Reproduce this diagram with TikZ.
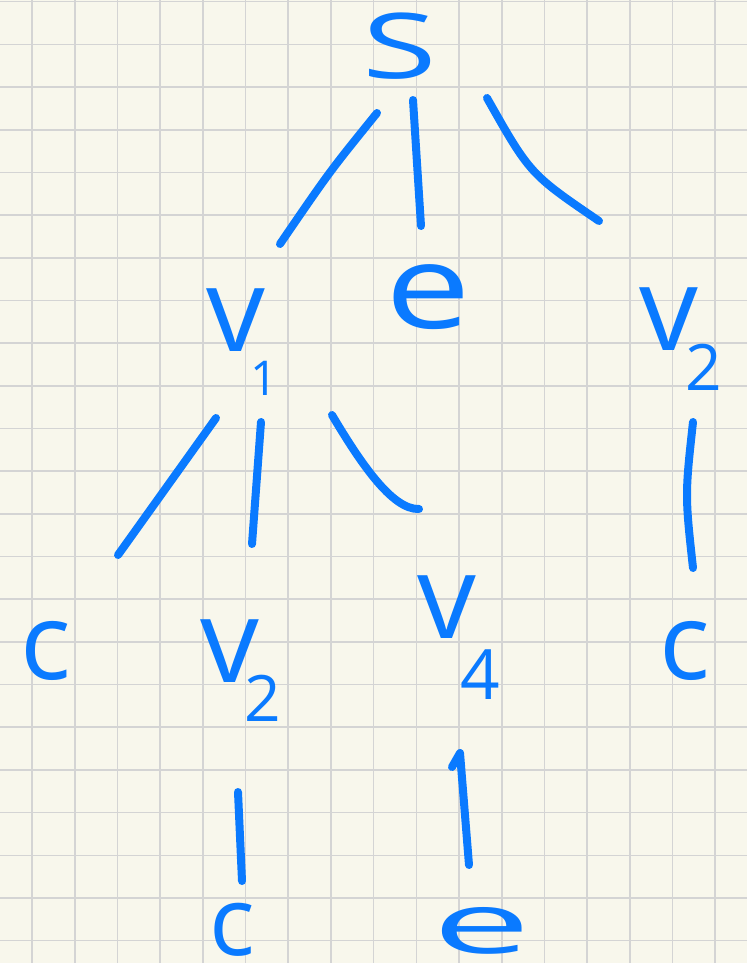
\documentclass[tikz,border=0pt]{standalone}
\usepackage{fontspec}
\newfontfamily\hand{Open Sans}
\usetikzlibrary{calc}
\definecolor{ink}{RGB}{10,122,255}
\definecolor{paper}{RGB}{248,247,236}
\definecolor{gridc}{RGB}{212,212,212}
\newcommand\sbs[4]{\rlap{\smash{\kern#1\raisebox{#2}{\fontsize{#3}{#3}\selectfont #4}}}}
\begin{document}
\begin{tikzpicture}[x=0.75pt,y=-0.75pt,
  letter/.style={inner sep=0pt, text=ink, font=\hand\fontsize{88}{88}\selectfont},
  small/.style={font=\hand\fontsize{80}{80}\selectfont},
  edge/.style={draw=ink, line width=6pt, line cap=round, line join=round},
  gridline/.style={draw=gridc, line width=1.2pt}]
\fill[paper] (0,0) rectangle (747,963);
\useasboundingbox (0,0) rectangle (747,963);
\foreach \k in {0,...,16} \draw[gridline] ({32+42.7*\k},0) -- ({32+42.7*\k},963);
\foreach \k in {0,...,22} \draw[gridline] (0,{1.7+42.68*\k}) -- (747,{1.7+42.68*\k});
% nodes
\node[letter, font=\hand\fontsize{68}{68}\selectfont] (S) at (400,46) {\scalebox{1.5}[1]{S}};
\node[letter] (v1) at (236,320) {v\sbs{-11pt}{-33pt}{36}{1}};
\node[letter] (e1) at (428,297) {\scalebox{1.3}[1]{e}};
\node[letter] (v2r) at (669,319) {v\sbs{-10pt}{-30pt}{48}{2}};
\node[letter, small] (c1) at (46,651) {c};
\node[letter] (v2m) at (230,651) {v\sbs{-11pt}{-29pt}{48}{2}};
\node[letter] (v4) at (447,607) {v\sbs{-12pt}{-46pt}{52}{4}};
\node[letter, small] (c2) at (685,651) {c};
\node[letter, font=\hand\fontsize{72}{72}\selectfont] (c3) at (232,930) {c};
\node[letter] (e2) at (482,931) {\scalebox{1.5}[0.72]{e}};
% edges
\draw[edge] ($(S)+(-23,67)$) .. controls ($(S)+(-70,125)$) .. ($(v1)+(44,-76)$);
\draw[edge] ($(S)+(13,54)$) -- ($(e1)+(-7,-71)$);
\draw[edge] ($(S)+(87,52)$) .. controls ($(S)+(130,128)$) .. ($(v2r)+(-70,-98)$);
\draw[edge] ($(v1)+(-20,98)$) -- ($(c1)+(72,-96)$);
\draw[edge] ($(v1)+(25,102)$) -- ($(v2m)+(22,-107)$);
\draw[edge] ($(v1)+(96,95)$) .. controls ($(v1)+(124,142)$) and ($(v4)+(-55,-97)$) .. ($(v4)+(-28,-98)$);
\draw[edge] ($(v2r)+(24,103)$) .. controls ($(v2r)+(16,176)$) .. ($(c2)+(8,-83)$);
\draw[edge] ($(v2m)+(8,141)$) -- ($(c3)+(10,-49)$);
\draw[edge] ($(v4)+(5,160)$) -- ($(v4)+(13,146)$) -- ($(e2)+(-13,-66)$);
\end{tikzpicture}
\end{document}
